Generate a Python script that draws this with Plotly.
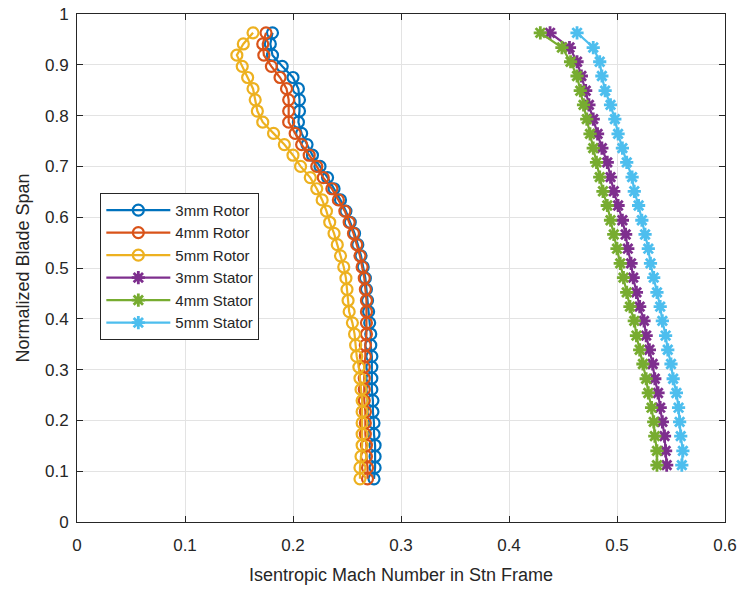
import plotly.graph_objects as go

# Spanwise stations for the rotor and stator traverses
rotor_span = [0.085, 0.107, 0.129, 0.151, 0.173, 0.195, 0.217, 0.239, 0.261, 0.283,
              0.305, 0.326, 0.348, 0.370, 0.392, 0.414, 0.436, 0.458, 0.480, 0.502,
              0.524, 0.546, 0.568, 0.590, 0.612, 0.634, 0.656, 0.678, 0.700, 0.722,
              0.743, 0.765, 0.787, 0.809, 0.831, 0.853, 0.875, 0.897, 0.919, 0.941, 0.963]

stator_span = [0.112, 0.140, 0.169, 0.197, 0.225, 0.254, 0.282, 0.311, 0.339, 0.367,
               0.396, 0.424, 0.452, 0.481, 0.509, 0.538, 0.566, 0.594, 0.623, 0.651,
               0.679, 0.708, 0.736, 0.764, 0.793, 0.821, 0.849, 0.878, 0.906, 0.934, 0.963]

# Isentropic Mach number in the station frame
rotor_3mm = [0.275, 0.276, 0.276, 0.276, 0.275, 0.275, 0.274, 0.274, 0.273, 0.273,
             0.273, 0.273, 0.272, 0.272, 0.271, 0.270, 0.269, 0.268, 0.267, 0.265,
             0.263, 0.260, 0.257, 0.253, 0.249, 0.244, 0.238, 0.232, 0.225, 0.218,
             0.213, 0.208, 0.205, 0.206, 0.206, 0.205, 0.200, 0.190, 0.181, 0.179, 0.181]

rotor_4mm = [0.269, 0.269, 0.268, 0.268, 0.267, 0.267, 0.267, 0.266, 0.266, 0.266,
             0.266, 0.267, 0.267, 0.268, 0.268, 0.268, 0.268, 0.267, 0.266, 0.264,
             0.262, 0.259, 0.256, 0.252, 0.248, 0.242, 0.236, 0.228, 0.222, 0.215,
             0.208, 0.202, 0.196, 0.196, 0.196, 0.194, 0.188, 0.180, 0.173, 0.172, 0.175]

rotor_5mm = [0.262, 0.262, 0.263, 0.264, 0.264, 0.264, 0.264, 0.264, 0.263, 0.262,
             0.261, 0.259, 0.258, 0.257, 0.255, 0.252, 0.251, 0.250, 0.249, 0.247,
             0.244, 0.241, 0.238, 0.234, 0.231, 0.227, 0.222, 0.216, 0.207, 0.200,
             0.192, 0.182, 0.172, 0.167, 0.165, 0.163, 0.158, 0.153, 0.148, 0.154, 0.163]

stator_3mm = [0.546, 0.545, 0.544, 0.542, 0.540, 0.538, 0.535, 0.533, 0.530, 0.527,
              0.525, 0.521, 0.518, 0.515, 0.513, 0.510, 0.508, 0.505, 0.501, 0.497,
              0.494, 0.491, 0.486, 0.482, 0.478, 0.474, 0.471, 0.467, 0.463, 0.456, 0.438]

stator_4mm = [0.537, 0.537, 0.535, 0.534, 0.532, 0.529, 0.527, 0.524, 0.521, 0.518,
              0.516, 0.512, 0.509, 0.506, 0.503, 0.500, 0.497, 0.494, 0.491, 0.487,
              0.484, 0.481, 0.478, 0.475, 0.472, 0.469, 0.466, 0.463, 0.457, 0.449, 0.429]

stator_5mm = [0.560, 0.561, 0.559, 0.558, 0.557, 0.555, 0.552, 0.550, 0.547, 0.545,
              0.542, 0.540, 0.537, 0.534, 0.531, 0.529, 0.526, 0.523, 0.520, 0.516,
              0.514, 0.509, 0.505, 0.501, 0.498, 0.494, 0.489, 0.486, 0.484, 0.478, 0.463]

x_ticks = [0, 0.1, 0.2, 0.3, 0.4, 0.5, 0.6]
x_tick_text = ["0", "0.1", "0.2", "0.3", "0.4", "0.5", "0.6"]
y_ticks = [0, 0.1, 0.2, 0.3, 0.4, 0.5, 0.6, 0.7, 0.8, 0.9, 1.0]
y_tick_text = ["0", "0.1", "0.2", "0.3", "0.4", "0.5", "0.6", "0.7", "0.8", "0.9", "1"]

series = [
    ("3mm Rotor", rotor_3mm, rotor_span, "#0072BD", "circle-open"),
    ("4mm Rotor", rotor_4mm, rotor_span, "#D95319", "circle-open"),
    ("5mm Rotor", rotor_5mm, rotor_span, "#EDB120", "circle-open"),
    ("3mm Stator", stator_3mm, stator_span, "#7E2F8E", "asterisk-open"),
    ("4mm Stator", stator_4mm, stator_span, "#77AC30", "asterisk-open"),
    ("5mm Stator", stator_5mm, stator_span, "#4DBEEE", "asterisk-open"),
]

fig = go.Figure()
for name, mach, span, color, symbol in series:
    is_rotor = symbol == "circle-open"
    fig.add_trace(go.Scatter(
        x=mach, y=span, name=name, mode="lines+markers",
        line=dict(color=color, width=2.2),
        marker=dict(symbol=symbol, size=11,
                    color=color, line=dict(color=color, width=2.2 if is_rotor else 2.8)),
    ))

base_font = dict(family="Liberation Sans, Arial, sans-serif", size=16, color="#262626")

fig.update_layout(
    width=741, height=590,
    margin=dict(l=77, r=16, t=14, b=68),
    paper_bgcolor="white", plot_bgcolor="white",
    font=base_font,
    showlegend=True,
    legend=dict(
        x=0.036, y=0.648, xanchor="left", yanchor="top",
        bgcolor="white", bordercolor="#262626", borderwidth=1,
        font=dict(family="Liberation Sans, Arial, sans-serif", size=15, color="#262626"),
        itemwidth=64, tracegroupgap=0,
    ),
    xaxis=dict(
        range=[0, 0.6], tickvals=x_ticks, ticktext=x_tick_text,
        showgrid=True, gridcolor="#e3e3e3", gridwidth=1,
        zeroline=False, showline=True, linecolor="#262626", linewidth=1,
        mirror="ticks", ticks="inside", ticklen=6, tickcolor="#262626",
        tickfont=dict(size=17), ticklabelstandoff=8, automargin=False,
        title=dict(text="Isentropic Mach Number in Stn Frame", font=dict(size=18), standoff=13),
    ),
    yaxis=dict(
        range=[0, 1], tickvals=y_ticks, ticktext=y_tick_text,
        showgrid=True, gridcolor="#e3e3e3", gridwidth=1,
        zeroline=False, showline=True, linecolor="#262626", linewidth=1,
        mirror="ticks", ticks="inside", ticklen=6, tickcolor="#262626",
        tickfont=dict(size=17), ticklabelstandoff=4, automargin=False,
        title=dict(text="Normalized Blade Span", font=dict(size=18), standoff=10),
    ),
)

fig.write_html("out.html")
